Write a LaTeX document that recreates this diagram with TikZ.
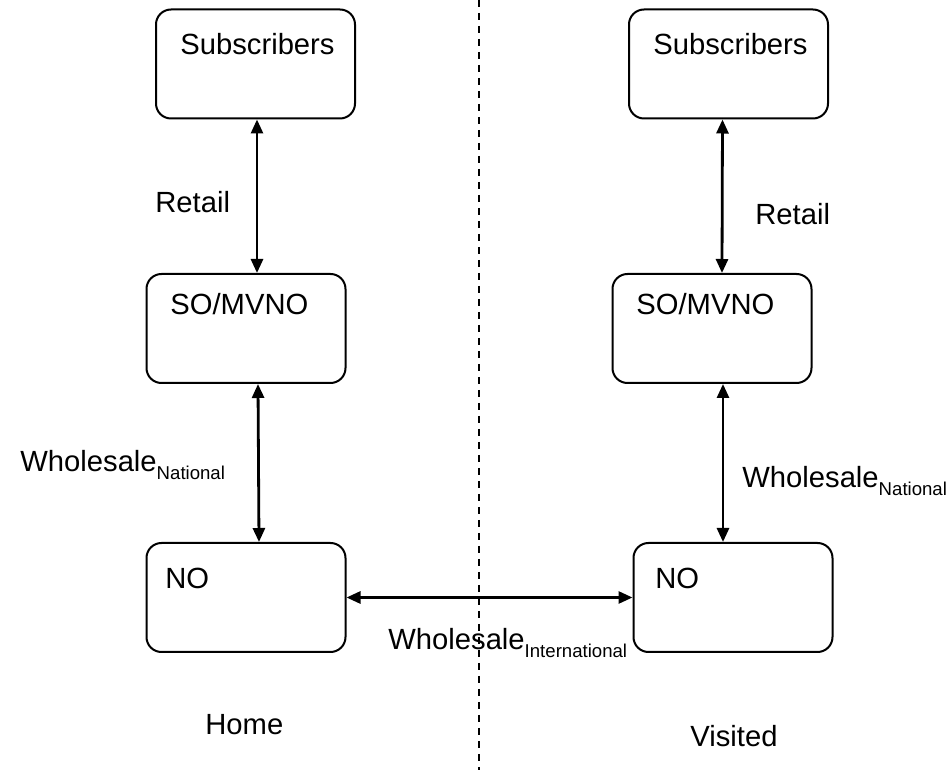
\documentclass[tikz,border=0pt]{standalone}
\usepackage{fontspec}
\setmainfont{Liberation Sans}
\usetikzlibrary{arrows.meta}

\newcommand{\subtxt}[1]{\raisebox{-3.6pt}{\fontsize{9.3}{11}\selectfont #1}}

\tikzset{
  party/.style={draw, line width=1pt, rounded corners=7.5pt, minimum width=99.5pt, minimum height=54.5pt, inner sep=0pt},
  lbl/.style={anchor=base west, inner sep=0pt, font=\fontsize{14.6}{17}\selectfont},
  link/.style={line width=1.4pt, {Triangle[length=7pt,width=6pt]}-{Triangle[length=7pt,width=6pt]}},
  divider/.style={line width=1pt, dash pattern=on 3.5pt off 3pt}
}

\begin{document}
\begin{tikzpicture}[x=0.5pt, y=-0.5pt]
\useasboundingbox (0,0) rectangle (950,770);

% home side
\node[party] (subH) at (255.5,64) {};
\node[party] (soH)  at (246,328.5) {};
\node[party] (noH)  at (246,597.5) {};

% visited side
\node[party] (subV) at (728.5,64) {};
\node[party] (soV)  at (712,328.5) {};
\node[party] (noV)  at (733,597.5) {};

% boundary between the two networks
\coordinate (divTop) at (479,0);
\coordinate (divBot) at (479,770);
\draw[divider] (divTop) -- (divBot);

% texts inside the boxes
\node[lbl] (tSubH) at (180,55) {Subscribers};
\node[lbl] (tSoH)  at (170,315) {SO/MVNO};
\node[lbl] (tNoH)  at (165,589) {NO};
\node[lbl] (tSubV) at (653,55) {Subscribers};
\node[lbl] (tSoV)  at (636,315) {SO/MVNO};
\node[lbl] (tNoV)  at (655,589) {NO};

% relations
\draw[link] ([xshift=0.75pt]subH.south) -- ([xshift=5.5pt]soH.north);
\draw[link] ([xshift=6pt]soH.south) -- ([xshift=6.5pt]noH.north);
\draw[link] ([xshift=-3pt]subV.south) -- ([xshift=5pt]soV.north);
\draw[link] ([xshift=5.5pt]soV.south) -- ([xshift=-5pt]noV.north);
\draw[link] (noH.east) -- (noV.west);

% relation labels
\node[lbl] (rH)  at (155,213) {Retail};
\node[lbl] (rV)  at (755,225) {Retail};
\node[lbl] (wnH) at (20,472) {Wholesale\subtxt{National}};
\node[lbl] (wnV) at (742,488) {Wholesale\subtxt{National}};
\node[lbl] (wi)  at (388,650) {Wholesale\subtxt{International}};

% side captions
\node[lbl] (home)    at (205,735) {Home};
\node[lbl] (visited) at (690,747) {Visited};
\end{tikzpicture}
\end{document}
